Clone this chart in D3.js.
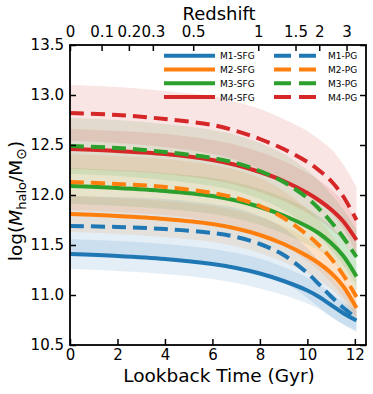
<!DOCTYPE html>
<html><head><meta charset="utf-8">
<script src="https://cdn.jsdelivr.net/npm/d3@7"></script>
<style>body{margin:0;background:#fff}svg{display:block}text{font-family:"DejaVu Sans",sans-serif;fill:#000}</style>
</head><body><svg id="c" width="373" height="394"></svg>
<script>
// ---- data ----
const lookback = [0, 2, 4, 6, 7, 8, 9, 10, 10.5, 11, 11.5, 12.07];
const seriesNames = ["M1-SFG","M2-SFG","M3-SFG","M4-SFG","M1-PG","M2-PG","M3-PG","M4-PG"];
const m1sfg = [11.41, 11.39, 11.36, 11.31, 11.27, 11.215, 11.14, 11.045, 10.98, 10.90, 10.82, 10.745];
const m2sfg = [11.81, 11.79, 11.76, 11.71, 11.665, 11.60, 11.51, 11.39, 11.315, 11.22, 11.09, 10.87];
const m3sfg = [12.09, 12.07, 12.04, 11.99, 11.945, 11.88, 11.795, 11.685, 11.615, 11.52, 11.395, 11.185];
const m4sfg = [12.46, 12.44, 12.41, 12.35, 12.30, 12.23, 12.14, 12.02, 11.945, 11.855, 11.74, 11.55];
const m1pg  = [11.69, 11.68, 11.66, 11.62, 11.58, 11.51, 11.40, 11.22, 11.105, 10.985, 10.875, 10.77];
const m2pg  = [12.13, 12.11, 12.08, 12.02, 11.97, 11.89, 11.77, 11.60, 11.495, 11.365, 11.205, 10.98];
const m3pg  = [12.49, 12.47, 12.43, 12.37, 12.32, 12.24, 12.13, 11.97, 11.86, 11.73, 11.58, 11.38];
const m4pg  = [12.82, 12.80, 12.76, 12.70, 12.64, 12.56, 12.46, 12.33, 12.245, 12.14, 11.99, 11.75];
// 1-sigma scatter bands
const m1sfgErr = [0.15, 0.15, 0.15, 0.15, 0.15, 0.15, 0.14, 0.13, 0.12, 0.12, 0.11, 0.10];
const m2sfgErr = [0.18, 0.18, 0.18, 0.18, 0.18, 0.18, 0.18, 0.17, 0.17, 0.16, 0.15, 0.14];
const m3sfgErr = [0.18, 0.18, 0.18, 0.18, 0.18, 0.18, 0.18, 0.18, 0.17, 0.17, 0.16, 0.15];
const m4sfgErr = [0.20, 0.20, 0.20, 0.20, 0.20, 0.20, 0.20, 0.20, 0.20, 0.20, 0.20, 0.20];
const m1pgErr  = [0.30, 0.30, 0.30, 0.29, 0.29, 0.28, 0.27, 0.25, 0.23, 0.20, 0.17, 0.14];
const m2pgErr  = [0.28, 0.28, 0.28, 0.28, 0.28, 0.28, 0.27, 0.26, 0.25, 0.24, 0.22, 0.20];
const m3pgErr  = [0.28, 0.28, 0.28, 0.28, 0.28, 0.28, 0.28, 0.28, 0.28, 0.28, 0.28, 0.28];
const m4pgErr  = [0.28, 0.28, 0.28, 0.29, 0.29, 0.30, 0.30, 0.31, 0.31, 0.32, 0.32, 0.33];
const xTicks = [0, 2, 4, 6, 8, 10, 12];
const yTicks = [10.5, 11.0, 11.5, 12.0, 12.5, 13.0, 13.5];
const zLabels = ["0", "0.1", "0.2", "0.3", "0.5", "1", "1.5", "2", "3"];
const zLookback = [0, 1.33, 2.48, 3.49, 5.19, 7.93, 9.50, 10.50, 11.65];

// ---- chart ----
const colors = {M1:"#1f77b4", M2:"#ff7f0e", M3:"#2ca02c", M4:"#d62728"};
const series = [
  {name:"M1-SFG", v:m1sfg, e:m1sfgErr, c:colors.M1, dash:false},
  {name:"M2-SFG", v:m2sfg, e:m2sfgErr, c:colors.M2, dash:false},
  {name:"M3-SFG", v:m3sfg, e:m3sfgErr, c:colors.M3, dash:false},
  {name:"M4-SFG", v:m4sfg, e:m4sfgErr, c:colors.M4, dash:false},
  {name:"M1-PG",  v:m1pg,  e:m1pgErr,  c:colors.M1, dash:true},
  {name:"M2-PG",  v:m2pg,  e:m2pgErr,  c:colors.M2, dash:true},
  {name:"M3-PG",  v:m3pg,  e:m3pgErr,  c:colors.M3, dash:true},
  {name:"M4-PG",  v:m4pg,  e:m4pgErr,  c:colors.M4, dash:true}
];
const L = 70, R = 366, T = 45, B = 345;
const x = d3.scaleLinear().domain([0, 12.47]).range([L, R]);
const y = d3.scaleLinear().domain([10.5, 13.5]).range([B, T]);
const svg = d3.select("#c");
svg.append("clipPath").attr("id","clip").append("rect").attr("x",L).attr("y",T).attr("width",R-L).attr("height",B-T);
const plot = svg.append("g").attr("clip-path","url(#clip)");

const crv = d3.curveCatmullRom.alpha(0.5);
const area = d3.area().curve(crv)
  .x((d,i)=>x(lookback[i])).y0(d=>y(d[0]-d[1])).y1(d=>y(d[0]+d[1]));
const line = d3.line().curve(crv).x((d,i)=>x(lookback[i])).y(d=>y(d));

series.forEach(s=>{
  plot.append("path").datum(s.v.map((v,i)=>[v,s.e[i]])).attr("d",area)
    .attr("fill",s.c).attr("fill-opacity",0.12).attr("stroke","none");
});
series.forEach(s=>{
  plot.append("path").datum(s.v).attr("d",line).attr("fill","none")
    .attr("stroke",s.c).attr("stroke-width",4)
    .attr("stroke-dasharray", s.dash ? "14,7" : null);
});

// axes
const tickLen = 6;
const ax = svg.append("g");
ax.append("g").attr("transform",`translate(0,${B})`)
  .call(d3.axisBottom(x).tickValues(xTicks).tickFormat(d3.format("d")).tickSizeInner(-tickLen).tickSizeOuter(0).tickPadding(4));
ax.append("g").attr("transform",`translate(${L},0)`)
  .call(d3.axisLeft(y).tickValues(yTicks).tickFormat(d3.format(".1f")).tickSizeInner(-tickLen).tickSizeOuter(0).tickPadding(6));
ax.append("g").attr("transform",`translate(${R},0)`)
  .call(d3.axisRight(y).tickValues(yTicks).tickFormat("").tickSizeInner(-tickLen).tickSizeOuter(0));
ax.append("g").attr("transform",`translate(0,${T})`)
  .call(d3.axisTop(x).tickValues(zLookback).tickFormat((d,i)=>zLabels[i]).tickSizeInner(-tickLen).tickSizeOuter(0).tickPadding(8));
ax.selectAll(".domain").remove();
ax.selectAll(".tick line").attr("stroke","#000").attr("stroke-width",1.5);
ax.selectAll(".tick text").attr("font-size",15).attr("font-family","DejaVu Sans").attr("fill","#000");
svg.append("rect").attr("x",L).attr("y",T).attr("width",R-L).attr("height",B-T)
  .attr("fill","none").attr("stroke","#000").attr("stroke-width",1.8);

// axis titles
svg.append("text").attr("x",219).attr("y",382).attr("text-anchor","middle").attr("font-size",18.5).text("Lookback Time (Gyr)");
svg.append("text").attr("x",219).attr("y",20).attr("text-anchor","middle").attr("font-size",18).text("Redshift");
const yl = svg.append("text").attr("transform","translate(22,201) rotate(-90)").attr("text-anchor","middle").attr("font-size",18.5);
yl.append("tspan").text("log(");
yl.append("tspan").attr("font-style","italic").text("M");
yl.append("tspan").attr("font-size",13).attr("dy",4).text("halo");
yl.append("tspan").attr("dy",-4).text("/M");
yl.append("tspan").attr("font-size",14).attr("dy",4).text("\u2299");
yl.append("tspan").attr("dy",-4).text(")");

// legend
const lg = svg.append("g");
series.forEach((s,i)=>{
  const col = s.dash ? 1 : 0, row = i % 4;
  const yy = 55.7 + row*13.8;
  const x0 = col ? 274 : 164, x1 = col ? 316 : 215;
  lg.append("line").attr("x1",x0).attr("x2",x1).attr("y1",yy).attr("y2",yy)
    .attr("stroke",s.c).attr("stroke-width",4).attr("stroke-dasharray", s.dash ? "17,8" : null);
  lg.append("text").attr("x", col ? 328 : 220).attr("y", yy+3.5).attr("font-size",9).text(s.name);
});
</script></body></html>
